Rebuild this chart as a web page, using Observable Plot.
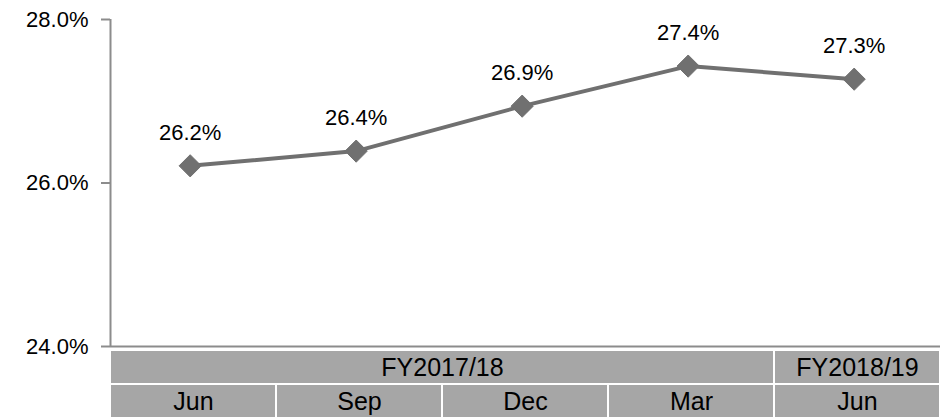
<!DOCTYPE html>
<html>
<head>
<meta charset="utf-8">
<script src="https://cdn.jsdelivr.net/npm/d3@7"></script>
<script src="https://cdn.jsdelivr.net/npm/@observablehq/plot@0.6"></script>
<style>
  body { margin: 0; background: #fff; }
  #chart svg { display: block; }
  #chart svg.main { overflow: visible; position: relative; z-index: 2; }
</style>
</head>
<body>
<div id="chart"></div>
<script>
const months = ["Jun", "Sep", "Dec", "Mar", "Jun"];
const values = [26.21, 26.39, 26.94, 27.43, 27.27];
const fiscalYears = ["FY2017/18", "FY2018/19"];
const fiscalSpans = [[0, 4], [4, 5]];
const yTicks = [24, 26, 28];

const points = months.map((m, i) => ({ i, month: m, value: values[i] }));
const monthCells = months.map((m, i) => ({ x1: i, x2: i + 1, label: m, row: 1 }));
const fyCells = fiscalYears.map((f, k) => ({ x1: fiscalSpans[k][0], x2: fiscalSpans[k][1], label: f, row: 0 }));
const cells = [...fyCells, ...monthCells];

const W = 943, ML = 110, MR = 3;
const font = "Liberation Sans, Arial, sans-serif";

const main = Plot.plot({
  width: W, height: 350,
  marginLeft: ML, marginRight: MR, marginTop: 19, marginBottom: 4,
  style: { fontFamily: font, fontSize: "22px", color: "#000", background: "transparent" },
  x: { domain: [0, 5], axis: null },
  y: { domain: [24, 28], axis: null },
  marks: [
    Plot.ruleY([24], { stroke: "#8c8c8c", strokeWidth: 2 }),
    Plot.axisY({ ticks: yTicks, label: null, tickFormat: d => d.toFixed(1) + "%", tickSize: 9, tickPadding: 13, stroke: "#8c8c8c", strokeWidth: 2, fill: "#000", fontSize: 22 }),
    Plot.ruleX([0], { y1: 24, y2: 28, stroke: "#8c8c8c", strokeWidth: 2 }),
    Plot.line(points, { x: d => d.i + 0.48, y: "value", stroke: "#707070", strokeWidth: 4 }),
    Plot.dot(points, { x: d => d.i + 0.48, y: "value", symbol: "diamond2", r: 10, fill: "#707070", stroke: "#707070", strokeWidth: 1 }),
    Plot.text(points, { x: d => d.i + 0.48, y: "value", text: d => d.value.toFixed(1) + "%", dy: -33, fill: "#000", fontSize: 22 })
  ]
});
main.classList.add("main");

const table = Plot.plot({
  width: W, height: 68,
  marginLeft: ML, marginRight: MR, marginTop: 0, marginBottom: 0,
  style: { fontFamily: font, fontSize: "25px", background: "transparent" },
  x: { domain: [0, 5], axis: null },
  y: { domain: [0, 2], axis: null, reverse: true },
  marks: [
    Plot.rect(cells, { x1: "x1", x2: "x2", y1: d => d.row, y2: d => d.row + 1, fill: "#a6a6a6", insetLeft: 1, insetRight: 1, insetTop: 1, insetBottom: 1 }),
    Plot.text(cells, { x: d => (d.x1 + d.x2) / 2, y: d => d.row + 0.5, text: "label", fill: "#000", fontSize: 25 })
  ]
});

document.getElementById("chart").append(main, table);
</script>
</body>
</html>
